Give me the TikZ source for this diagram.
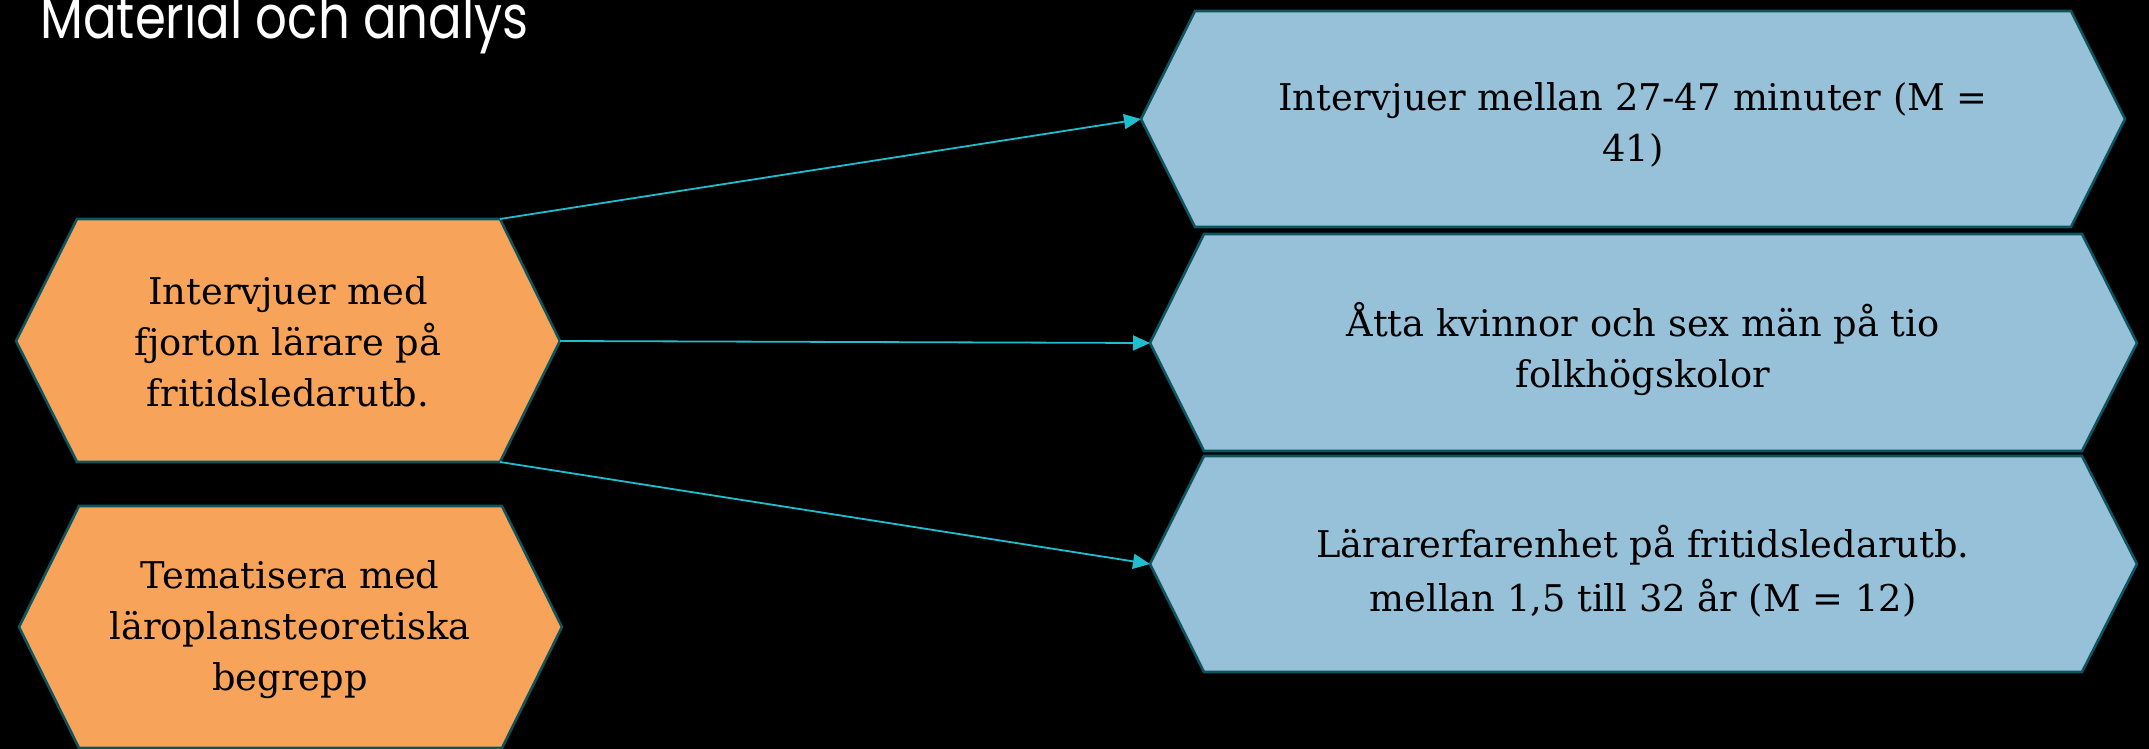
\documentclass[tikz,border=0pt]{standalone}
\usepackage{fontspec}
\setmainfont{DejaVu Serif}
\newfontfamily\titlefont{Poppins}
\usetikzlibrary{arrows.meta}
\definecolor{orangefill}{RGB}{247,163,89}
\definecolor{bluefill}{RGB}{151,193,216}
\definecolor{hexline}{RGB}{12,84,94}
\definecolor{arrowcol}{RGB}{32,190,205}
\begin{document}
\begin{tikzpicture}[x=0.5pt,y=-0.5pt,
  hexo/.style={fill=orangefill,draw=hexline,line width=1.3pt,line join=miter},
  hexb/.style={fill=bluefill,draw=hexline,line width=1.3pt,line join=miter},
  txt/.style={text=black,align=center,inner sep=0pt,font=\fontsize{18.4}{25.5}\selectfont},
  conn/.style={draw=arrowcol,line width=0.9pt,-{Triangle[length=8.5pt,width=7.5pt]}}]
\fill[black] (0,0) rectangle (2149,749);
\useasboundingbox (0,0) rectangle (2149,749);
% title
\node[anchor=base west,inner sep=0pt,text=white,font=\titlefont\fontsize{30}{34}\selectfont,xscale=0.83] (title) at (40,39) {Material och analys};
% orange hexagon 1
\coordinate (o1l) at (16,341);
\coordinate (o1tl) at (77,219);
\coordinate (o1tr) at (500,219);
\coordinate (o1r) at (560,341);
\coordinate (o1br) at (500,462);
\coordinate (o1bl) at (77,462);
\draw[hexo] (o1l) -- (o1tl) -- (o1tr) -- (o1r) -- (o1br) -- (o1bl) -- cycle;
\node[txt] (o1) at (288,342) {Intervjuer med\\fjorton lärare på\\fritidsledarutb.};
% orange hexagon 2
\coordinate (o2l) at (19,627);
\coordinate (o2tl) at (79,506);
\coordinate (o2tr) at (502,506);
\coordinate (o2r) at (562,627);
\coordinate (o2br) at (502,748);
\coordinate (o2bl) at (79,748);
\draw[hexo] (o2l) -- (o2tl) -- (o2tr) -- (o2r) -- (o2br) -- (o2bl) -- cycle;
\node[txt] (o2) at (290,630) {Tematisera med\\läroplansteoretiska\\begrepp};
% blue hexagon 1
\coordinate (b1l) at (1141,119);
\coordinate (b1tl) at (1195,11);
\coordinate (b1tr) at (2071,11);
\coordinate (b1r) at (2125,119);
\coordinate (b1br) at (2071,227);
\coordinate (b1bl) at (1195,227);
\draw[hexb] (b1l) -- (b1tl) -- (b1tr) -- (b1r) -- (b1br) -- (b1bl) -- cycle;
\node[txt] (b1) at (1633,125) {Intervjuer mellan 27-47 minuter (M =\\41)};
% blue hexagon 2
\coordinate (b2l) at (1150,343);
\coordinate (b2tl) at (1204,234);
\coordinate (b2tr) at (2082,234);
\coordinate (b2r) at (2137,343);
\coordinate (b2br) at (2082,451);
\coordinate (b2bl) at (1204,451);
\draw[hexb] (b2l) -- (b2tl) -- (b2tr) -- (b2r) -- (b2br) -- (b2bl) -- cycle;
\node[txt] (b2) at (1643,349) {Åtta kvinnor och sex män på tio\\folkhögskolor};
% blue hexagon 3
\coordinate (b3l) at (1150,564);
\coordinate (b3tl) at (1204,456);
\coordinate (b3tr) at (2082,456);
\coordinate (b3r) at (2137,564);
\coordinate (b3br) at (2082,672);
\coordinate (b3bl) at (1204,672);
\draw[hexb] (b3l) -- (b3tl) -- (b3tr) -- (b3r) -- (b3br) -- (b3bl) -- cycle;
\node[txt,font=\fontsize{18.4}{27}\selectfont] (b3) at (1643,571) {Lärarerfarenhet på fritidsledarutb.\\mellan 1,5 till 32 år (M = 12)};
% connectors
\draw[conn] (o1tr) -- (b1l);
\draw[conn] (o1r) -- (b2l);
\draw[conn] (o1br) -- (b3l);
\end{tikzpicture}
\end{document}
